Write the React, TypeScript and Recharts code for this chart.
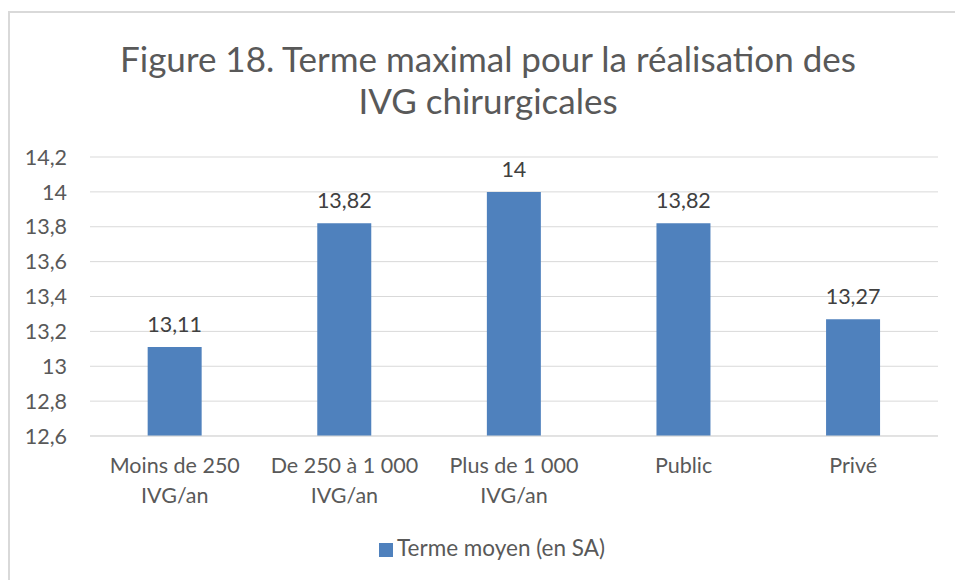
import { BarChart, Bar, XAxis, YAxis, CartesianGrid, Legend, LabelList } from "recharts";

const categories = ["Moins de 250\nIVG/an", "De 250 à 1 000\nIVG/an", "Plus de 1 000\nIVG/an", "Public", "Privé"];
const termeMoyen = [13.11, 13.82, 14, 13.82, 13.27];
const yTicks = [12.6, 12.8, 13, 13.2, 13.4, 13.6, 13.8, 14, 14.2];

const data = categories.map((c, i) => ({ name: c, value: termeMoyen[i] }));

const font = "Lato, 'Open Sans', sans-serif";
const fmt = (v: number) => String(Number(v.toFixed(2))).replace(".", ",");

const CategoryTick = (props: any) => {
  const { x, y, payload } = props;
  const lines = String(payload.value).split("\n");
  return (
    <text x={x} y={y} textAnchor="middle" fill="#595959" fontSize={21.5} fontFamily={font}>
      {lines.map((l, i) => (
        <tspan key={i} x={x} dy={i === 0 ? 29 : 30}>{l}</tspan>
      ))}
    </text>
  );
};

const App = () => {
  return (
    <div style={{ position: "fixed", left: 0, top: 0, width: 955, height: 580, background: "#fff", fontFamily: font }}>
      <div style={{ position: "absolute", left: 8, top: 11, width: 960, height: 600, border: "2px solid #d9d9d9", boxSizing: "border-box" }} />
      <div style={{ position: "absolute", left: 0, top: 37, width: 976, textAlign: "center", fontSize: 35, lineHeight: "42px", color: "#595959" }}>
        Figure 18. Terme maximal pour la réalisation des<br />IVG chirurgicales
      </div>
      <div style={{ position: "absolute", left: 0, top: 0 }}>
        <BarChart width={955} height={580} data={data} margin={{ top: 157, right: 17, left: 0, bottom: 0 }} barCategoryGap="34%">
          <CartesianGrid stroke="#d9d9d9" vertical={false} />
          <XAxis dataKey="name" tick={<CategoryTick />} axisLine={{ stroke: "#d9d9d9" }} tickLine={false} interval={0} height={90} />
          <YAxis
            domain={[12.6, 14.2]}
            ticks={yTicks}
            tickFormatter={fmt}
            tick={{ fontSize: 21.5, fill: "#595959", fontFamily: font }}
            axisLine={false}
            tickLine={false}
            tickSize={0}
            tickMargin={23}
            width={90}
          />
          <Legend
            verticalAlign="bottom"
            iconType="square"
            iconSize={14}
            height={54}
            wrapperStyle={{ fontSize: 22.5, fontFamily: font, bottom: -8, marginLeft: 28 }}
            formatter={(v) => <span style={{ color: "#595959" }}>{v}</span>}
          />
          <Bar dataKey="value" name="Terme moyen (en SA)" fill="#4f81bd" isAnimationActive={false}>
            <LabelList dataKey="value" position="top" offset={15} formatter={(v: any) => fmt(Number(v))} style={{ fontSize: 21.5, fill: "#404040", fontFamily: font }} />
          </Bar>
        </BarChart>
      </div>
    </div>
  );
};

export default App;
